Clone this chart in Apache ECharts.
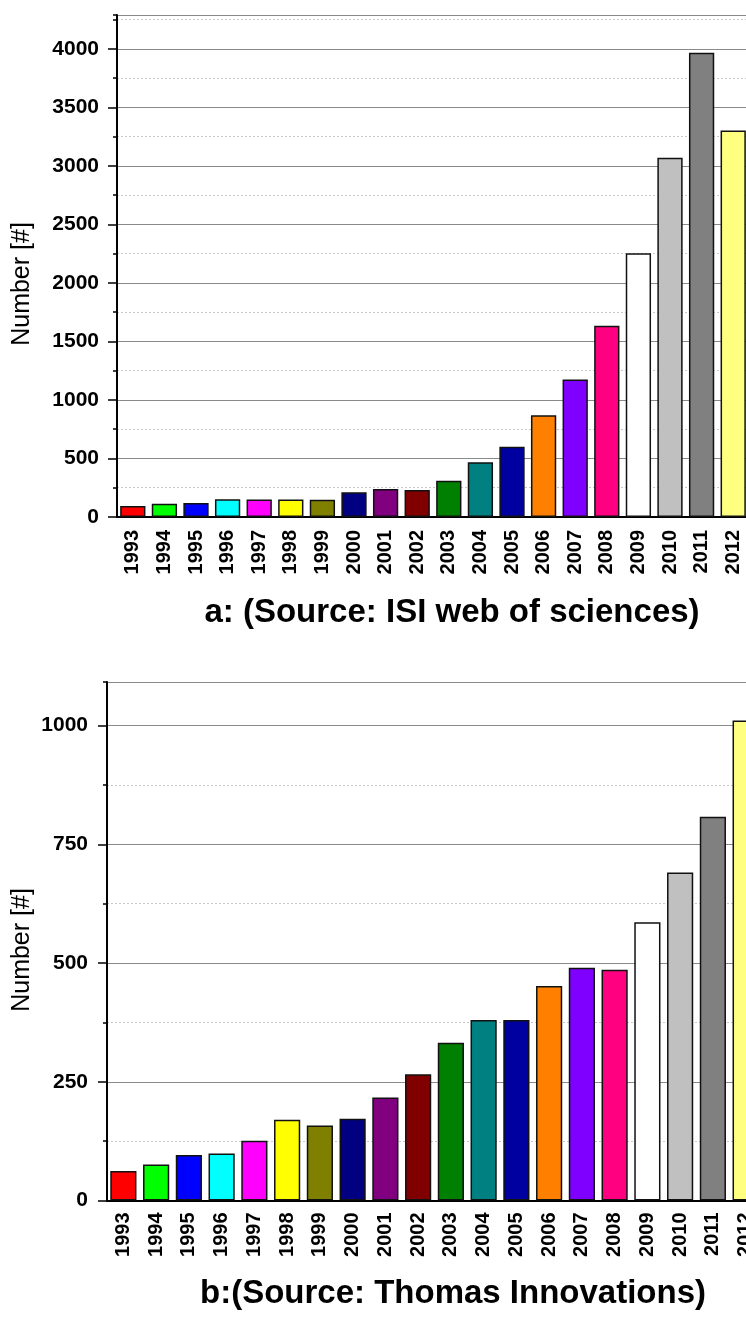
<!DOCTYPE html>
<html>
<head>
<meta charset="utf-8">
<script src="https://cdn.jsdelivr.net/npm/echarts@6/dist/echarts.min.js"></script>
<style>
  html, body { margin: 0; padding: 0; background: #fff; }
  #main { width: 746px; height: 1324px; }
</style>
</head>
<body>
<div id="main"></div>
<script>
// publications per year, two sources
const years = ['1993', '1994', '1995', '1996', '1997', '1998', '1999', '2000', '2001', '2002',
  '2003', '2004', '2005', '2006', '2007', '2008', '2009', '2010', '2011', '2012'];
const isiCounts = [95, 114, 120, 151, 150, 150, 148, 211, 239, 231,
  310, 467, 601, 869, 1174, 1635, 2254, 3071, 3968, 3302];
const thomasCounts = [62, 76, 96, 99, 126, 170, 158, 172, 217, 266,
  332, 380, 380, 452, 490, 486, 586, 691, 808, 1011];
const barColors = ['#ff0000', '#00ff00', '#0000ff', '#00ffff', '#ff00ff', '#ffff00', '#808000',
  '#000080', '#800080', '#800000', '#008000', '#008080', '#0000a0', '#ff8000', '#8000ff',
  '#ff0080', '#ffffff', '#c0c0c0', '#808080', '#ffff80'];
const titleA = 'a: (Source: ISI web of sciences)';
const titleB = 'b:(Source: Thomas Innovations)';
const yName = 'Number [#]';

const FONT = '"Liberation Sans", Arial, Helvetica, sans-serif';

const chart = echarts.init(document.getElementById('main'), null, { renderer: 'canvas' });

function bottomAxis(gridIndex, margin) {
  return {
    type: 'category',
    gridIndex: gridIndex,
    position: 'bottom',
    data: years,
    boundaryGap: true,
    axisLine: { lineStyle: { color: '#000', width: 2 } },
    axisTick: { alignWithLabel: true, length: 9, lineStyle: { color: '#000', width: 1.5 } },
    axisLabel: {
      rotate: 90, margin: margin, interval: 0,
      color: '#000', fontFamily: FONT, fontWeight: 'bold', fontSize: 20
    },
    splitLine: { show: false }
  };
}

function topAxis(gridIndex) {
  return {
    type: 'category',
    gridIndex: gridIndex,
    position: 'top',
    data: years,
    boundaryGap: true,
    axisLine: { lineStyle: { color: '#000', width: 2 } },
    axisTick: { inside: true, length: 3, lineStyle: { color: '#000', width: 1 } },
    axisLabel: { show: false },
    splitLine: { show: false }
  };
}

// dotted in-between grid lines + short ticks
function minorAxis(gridIndex, max, step) {
  return {
    type: 'value',
    gridIndex: gridIndex,
    position: 'left',
    offset: 0,
    min: 0, max: max, interval: step,
    axisLine: { show: false },
    axisTick: { show: true, length: 4, lineStyle: { color: '#000', width: 1.5 } },
    axisLabel: { show: false },
    splitLine: { show: true, lineStyle: { color: '#c8c8c8', type: [2, 2], width: 1 } }
  };
}

function majorAxis(gridIndex, max, step, margin) {
  return {
    type: 'value',
    gridIndex: gridIndex,
    position: 'left',
    offset: 0,
    min: 0, max: max, interval: step,
    axisLine: { show: true, lineStyle: { color: '#000', width: 2 } },
    axisTick: { show: true, length: 9, lineStyle: { color: '#000', width: 1.5 } },
    axisLabel: {
      showMaxLabel: false, margin: margin,
      formatter: v => String(v),
      color: '#000', fontFamily: FONT, fontWeight: 'bold', fontSize: 21
    },
    splitLine: { show: true, lineStyle: { color: '#8a8a8a', width: 1 } }
  };
}

function barSeries(xi, yi, values) {
  return {
    type: 'bar',
    xAxisIndex: xi,
    yAxisIndex: yi,
    barWidth: '80%',
    data: values.map((v, i) => ({
      value: v,
      itemStyle: { color: barColors[i] }
    })),
    itemStyle: { borderColor: '#111', borderWidth: 1.5 }
  };
}

chart.setOption({
  backgroundColor: '#fff',
  animation: false,
  grid: [
    { left: 117, top: 15, width: 632, height: 502, outerBoundsMode: 'none', containLabel: false },
    { left: 107, top: 682, width: 655, height: 518.5, outerBoundsMode: 'none', containLabel: false }
  ],
  xAxis: [
    bottomAxis(0, 13),
    topAxis(0),
    bottomAxis(1, 12),
    topAxis(1)
  ],
  yAxis: [
    minorAxis(0, 4290, 250),
    majorAxis(0, 4290, 500, 18),
    minorAxis(1, 1092, 125),
    majorAxis(1, 1092, 250, 19)
  ],
  series: [
    barSeries(0, 1, isiCounts),
    barSeries(2, 3, thomasCounts)
  ],
  graphic: [
    {
      type: 'text', x: 22, y: 284, rotation: Math.PI / 2,
      style: { text: yName, fill: '#000', font: '25px ' + FONT, textAlign: 'center', textVerticalAlign: 'middle' }
    },
    {
      type: 'text', x: 22, y: 950, rotation: Math.PI / 2,
      style: { text: yName, fill: '#000', font: '25px ' + FONT, textAlign: 'center', textVerticalAlign: 'middle' }
    },
    {
      type: 'text', x: 452, y: 613,
      style: { text: titleA, fill: '#000', font: 'bold 33px ' + FONT, textAlign: 'center', textVerticalAlign: 'middle' }
    },
    {
      type: 'text', x: 453, y: 1294,
      style: { text: titleB, fill: '#000', font: 'bold 33px ' + FONT, textAlign: 'center', textVerticalAlign: 'middle' }
    }
  ]
});
</script>
</body>
</html>
